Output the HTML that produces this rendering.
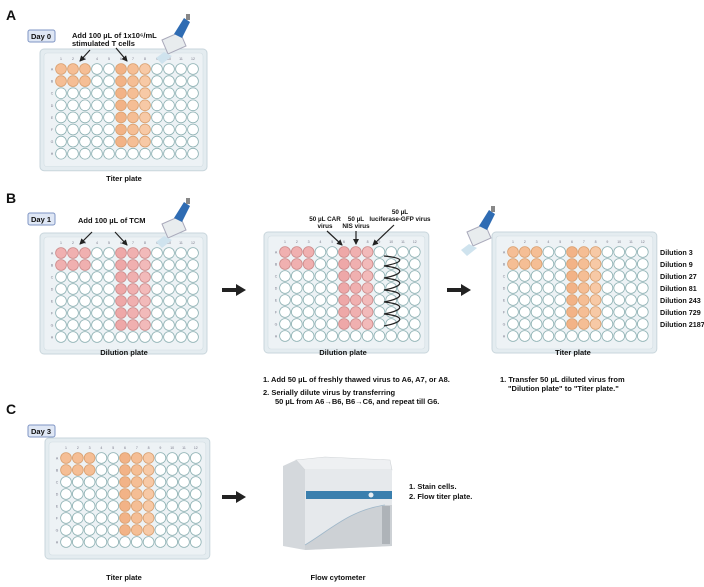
<!DOCTYPE html>
<html><head><meta charset="utf-8"><style>
body{margin:0;background:#fff;width:704px;height:587px;overflow:hidden}
svg{display:block;font-family:"Liberation Sans",sans-serif;font-weight:bold}
</style></head><body>
<svg id="s" width="704" height="587" viewBox="0 0 704 587" xmlns="http://www.w3.org/2000/svg">
<defs>
<marker id="ah" markerWidth="6" markerHeight="6" refX="5" refY="3" orient="auto" markerUnits="userSpaceOnUse"><path d="M0,0 L6,3 L0,6 z" fill="#222"/></marker>
</defs>
<g id="plates"></g>
<g font-size="14" fill="#111">
<text x="6" y="20">A</text><text x="6" y="203">B</text><text x="6" y="414">C</text>
</g>
<g font-size="7.5" fill="#111">
<rect x="28" y="30" width="27" height="12" rx="2" fill="#dfe7f5" stroke="#7f95c4"/><text x="31" y="39">Day 0</text>
<rect x="28" y="213" width="27" height="12" rx="2" fill="#dfe7f5" stroke="#7f95c4"/><text x="31" y="222">Day 1</text>
<rect x="28" y="425" width="27" height="12" rx="2" fill="#dfe7f5" stroke="#7f95c4"/><text x="31" y="434">Day 3</text>
<text x="72" y="38">Add 100 µL of 1x10⁶/mL</text><text x="72" y="46">stimulated T cells</text>
<text x="78" y="223">Add 100 µL of TCM</text>
<text x="124" y="181" text-anchor="middle">Titer plate</text>
<text x="124" y="355" text-anchor="middle">Dilution plate</text>
<text x="343" y="355" text-anchor="middle">Dilution plate</text>
<text x="573" y="355" text-anchor="middle">Titer plate</text>
<text x="124" y="580" text-anchor="middle">Titer plate</text>
<text x="338" y="580" text-anchor="middle">Flow cytometer</text>
<g font-size="6.3">
<text x="325" y="221" text-anchor="middle">50 µL CAR</text><text x="325" y="228" text-anchor="middle">virus</text>
<text x="356" y="221" text-anchor="middle">50 µL</text><text x="356" y="228" text-anchor="middle">NIS virus</text>
<text x="400" y="214" text-anchor="middle">50 µL</text><text x="400" y="221" text-anchor="middle">luciferase-GFP virus</text>
</g>
<text x="263" y="382">1. Add 50 µL of freshly thawed virus to A6, A7, or A8.</text>
<text x="263" y="395">2. Serially dilute virus by transferring</text>
<text x="275" y="404">50 µL from A6→B6, B6→C6, and repeat till G6.</text>
<text x="500" y="382">1. Transfer 50 µL diluted virus from</text>
<text x="508" y="391">"Dilution plate" to "Titer plate."</text>
<text x="409" y="489">1. Stain cells.</text>
<text x="409" y="499">2. Flow titer plate.</text>
<g font-size="7.2">
<text x="660" y="255">Dilution 3</text><text x="660" y="267">Dilution 9</text><text x="660" y="279">Dilution 27</text><text x="660" y="291">Dilution 81</text><text x="660" y="303">Dilution 243</text><text x="660" y="315">Dilution 729</text><text x="660" y="327">Dilution 2187</text>
</g>
</g>
<g stroke="#222" stroke-width="1.2" fill="none" marker-end="url(#ah)">
<line x1="90" y1="50" x2="80" y2="61"/><line x1="116" y1="48" x2="127" y2="61"/>
<line x1="92" y1="232" x2="80" y2="244"/><line x1="115" y1="232" x2="127" y2="245"/>
<line x1="327" y1="231" x2="342" y2="245"/><line x1="356" y1="231" x2="356" y2="244"/><line x1="394" y1="225" x2="373" y2="245"/>
</g>
<g fill="#222">
<rect x="222" y="288" width="15" height="4"/><path d="M236,284 L246,290 L236,296z"/>
<rect x="447" y="288" width="15" height="4"/><path d="M461,284 L471,290 L461,296z"/>
<rect x="222" y="495" width="15" height="4"/><path d="M236,491 L246,497 L236,503z"/>
</g>
<path d="M384,256 C405,258 405,262 384,266 C405,268 405,274 384,278 C405,280 405,286 384,290 C405,292 405,298 384,302 C405,304 405,310 384,314 C405,316 405,322 384,326" stroke="#222" stroke-width="1.2" fill="none"/>
<g id="pip1" transform="translate(150,12)">
<path d="M12,28 L30,20 L36,34 L18,42z" fill="#e8ecee" stroke="#aab"/>
<path d="M14,40 L6,46 L12,52 L22,44z" fill="#cfe3ee"/>
<path d="M24,22 L34,6 L40,10 L32,26z" fill="#2f6cb3"/>
<rect x="36" y="2" width="4" height="6" fill="#888"/>
</g>
<use href="#pip1" transform="translate(0,184)"/>
<use href="#pip1" transform="translate(305,192)"/>
<g>
<path d="M283,466 L296,460 L305,470 L305,550 L283,546z" fill="#d4d8dc"/>
<path d="M296,460 L325,457 L390,460 L392,470 L305,470z" fill="#eef0f2" stroke="#cfd3d6" stroke-width="0.6"/>
<path d="M305,470 L392,470 L392,546 L305,550z" fill="#e6e9ec"/>
<rect x="306" y="491" width="86" height="8" fill="#3a7fae"/>
<circle cx="371" cy="495" r="2.5" fill="#e8eef2"/>
<path d="M305,545 C330,530 350,510 385,505 L392,505 L392,546 L305,550z" fill="#cdd1d5"/>
<path d="M305,545 C330,530 350,510 385,505" stroke="#9fb7c9" stroke-width="0.8" fill="none"/>
<rect x="382" y="506" width="8" height="38" fill="#aeb3b8"/>
</g>
</svg>
<script>
var P=document.getElementById('plates'),h='';
function plate(ox,oy,sx,sy,pink){
 var x0=ox-21,y0=oy-20;
 h+='<rect x="'+x0+'" y="'+y0+'" width="'+(11*sx+35)+'" height="'+(7*sy+37)+'" rx="4" fill="#e4ecf0" stroke="#c9d6dc"/>';
 h+='<rect x="'+(x0+4)+'" y="'+(y0+4)+'" width="'+(11*sx+27)+'" height="'+(7*sy+29)+'" rx="3" fill="#edf2f5" stroke="#d3dee3" stroke-width="0.6"/>';
 var R='ABCDEFGH';
 for(var c=0;c<12;c++)h+='<text x="'+(ox+c*sx)+'" y="'+(oy-9)+'" font-size="3.5" font-weight="normal" fill="#778" text-anchor="middle">'+(c+1)+'</text>';
 for(var r=0;r<8;r++){
  h+='<text x="'+(ox-9)+'" y="'+(oy+r*sy+1.5)+'" font-size="3.5" font-weight="normal" fill="#778" text-anchor="middle">'+R[r]+'</text>';
  for(var c=0;c<12;c++){
   var f='#fff',s='#8fb2b4';
   var fill=(r<2&&(c<3||(c>4&&c<8)))||(r>=2&&r<7&&c>4&&c<8);
   if(fill){
    if(pink){f=['#eea8a8','#f0b0b0','#f2baba'][c<5?1:c-5];s='#cc8a8a';}
    else{f=['#f2b387','#f5be95','#f7c9a6'][c<5?1:c-5];s='#d9a070';}
   }
   h+='<circle cx="'+(ox+c*sx)+'" cy="'+(oy+r*sy)+'" r="5.4" fill="'+f+'" stroke="'+s+'" stroke-width="0.8"/>';
  }
 }
}
plate(61,69,12,12.1,false);
plate(61,253,12,12,true);
plate(285,252,11.8,12,true);
plate(513,252,11.8,12,false);
plate(66,458,11.8,12,false);
P.innerHTML=h;
</script>
</body></html>
